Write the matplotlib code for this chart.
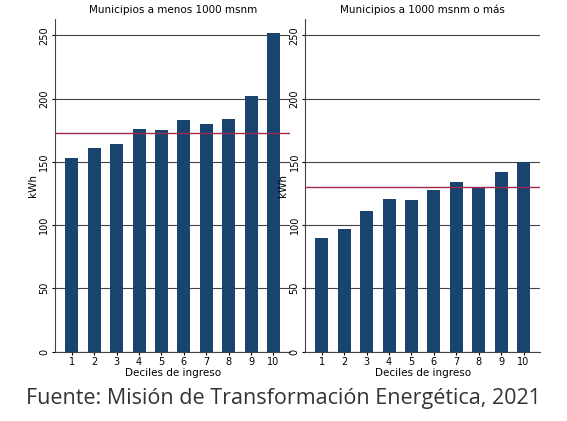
import matplotlib.pyplot as plt

deciles = ['1','2','3','4','5','6','7','8','9','10']
low = [153, 161, 164, 176, 175, 183, 180, 184, 202, 252]
high = [90, 97, 111, 121, 120, 128, 134, 130, 142, 150]
low_mean = 173
high_mean = 130
titles = ['Municipios a menos 1000 msnm', 'Municipios a 1000 msnm o más']

fig = plt.figure(figsize=(5.67, 4.21), dpi=100)
axes = [fig.add_axes([0.097, 0.165, 0.415, 0.79]), fig.add_axes([0.538, 0.165, 0.415, 0.79])]
for ax, vals, m, t in zip(axes, [low, high], [low_mean, high_mean], titles):
    ax.bar(range(len(deciles)), vals, width=0.58, color='#1a4470', zorder=3)
    ax.axhline(m, color='#a0284a', lw=1, zorder=4)
    ax.set_ylim(0, 263)
    ax.set_xlim(-0.75, 9.75)
    ax.set_yticks([0, 50, 100, 150, 200, 250])
    ax.set_yticklabels(['0', '50', '100', '150', '200', '250'], rotation=90, va='center', fontsize=7)
    ax.set_xticks(range(len(deciles)))
    ax.set_xticklabels(deciles, fontsize=7)
    ax.grid(axis='y', color='#444444', lw=0.8, zorder=0)
    ax.set_title(t, fontsize=7.5, pad=4)
    ax.set_xlabel('Deciles de ingreso', fontsize=7.5, labelpad=1)
    ax.set_ylabel('kWh', fontsize=7.5, labelpad=1)
    ax.tick_params(length=2, pad=2)
    for s in ['top', 'right']:
        ax.spines[s].set_visible(False)
    ax.spines['left'].set_color('#444444')
    ax.spines['bottom'].set_color('#444444')
fig.text(0.5, 0.04, 'Fuente: Misión de Transformación Energética, 2021', ha='center', fontsize=15.5, color='#333333', family='Open Sans')
fig.savefig('out.png', dpi=100)
